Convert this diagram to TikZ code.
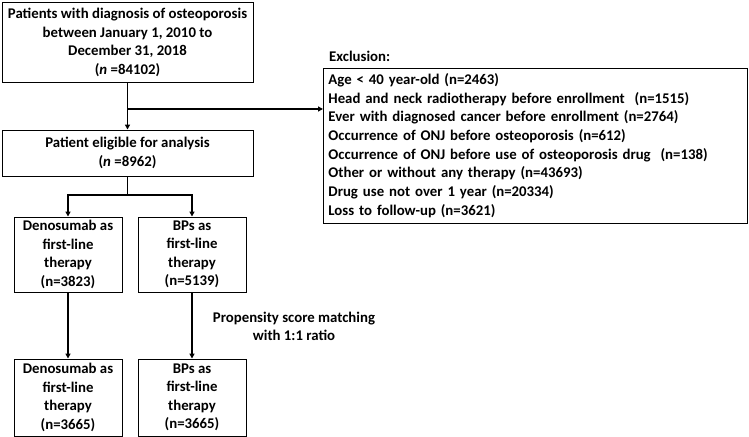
\documentclass[tikz,border=0pt]{standalone}
\usepackage{fontspec}
\setmainfont{Carlito}
\usetikzlibrary{arrows.meta}
\begin{document}
\begin{tikzpicture}[x=1bp,y=-1bp,
  box/.style={draw=black, line width=0.9bp, rectangle, align=center, inner sep=0pt,
    font=\fontsize{14.8bp}{18.5bp}\selectfont\bfseries},
  conn/.style={line width=1.4bp, draw=black},
  arr/.style={conn, -{Triangle[length=5bp,width=5bp]}},
  lbl/.style={align=center, inner sep=0pt, font=\fontsize{14.8bp}{18bp}\selectfont\bfseries}
]
\useasboundingbox (0,0) rectangle (749,437);
\node[box, minimum width=251bp, minimum height=80bp] (b1) at (127.5,42.5)
  {Patients with diagnosis of osteoporosis\\between January 1, 2010 to\\December 31, 2018\\(\textit{n} =84102)};
\node[box, minimum width=251bp, minimum height=46bp] (b2) at (127.5,153)
  {Patient eligible for analysis\\(\textit{n} =8962)};
\node[box, minimum height=155bp, align=left, anchor=west, inner xsep=5bp, text width=414bp,
  font=\fontsize{14.8bp}{18.7bp}\selectfont\bfseries] (ex) at (323,145.5)
  {Age < 40 year-old (n=2463)\\
   Head and neck radiotherapy before enrollment~ (n=1515)\\
   Ever with diagnosed cancer before enrollment (n=2764)\\
   Occurrence of ONJ before osteoporosis (n=612)\\
   Occurrence of ONJ before use of osteoporosis drug~ (n=138)\\
   Other or without any therapy (n=43693)\\
   Drug use not over 1 year (n=20334)\\
   Loss to follow-up (n=3621)};
\node[lbl, anchor=west] (exl) at (329,56) {Exclusion:};
\node[box, minimum width=108bp, minimum height=75bp] (b3) at (68,254.5)
  {Denosumab as\\first-line\\therapy\\(n=3823)};
\node[box, minimum width=108bp, minimum height=75bp] (b4) at (192,254.5)
  {BPs as\\first-line\\therapy\\(n=5139)};
\node[box, minimum width=108bp, minimum height=77bp] (b5) at (68,397.5)
  {Denosumab as\\first-line\\therapy\\(n=3665)};
\node[box, minimum width=108bp, minimum height=77bp] (b6) at (192,397.5)
  {BPs as\\first-line\\therapy\\(n=3665)};
\node[lbl] (psm) at (294,326) {Propensity score matching\\with 1:1 ratio};
\coordinate (br1) at (127.5,109);
\coordinate (br2) at (127.5,195);
\draw[arr] (b1.south) -- (b2.north);
\draw[arr] (br1) -- (ex.west |- br1);
\draw[conn] (b2.south) -- (br2);
\draw[arr] (br2) -| (b3.north);
\draw[arr] (br2) -| (b4.north);
\draw[arr] (b3.south) -- (b5.north);
\draw[arr] (b4.south) -- (b6.north);
\end{tikzpicture}
\end{document}
